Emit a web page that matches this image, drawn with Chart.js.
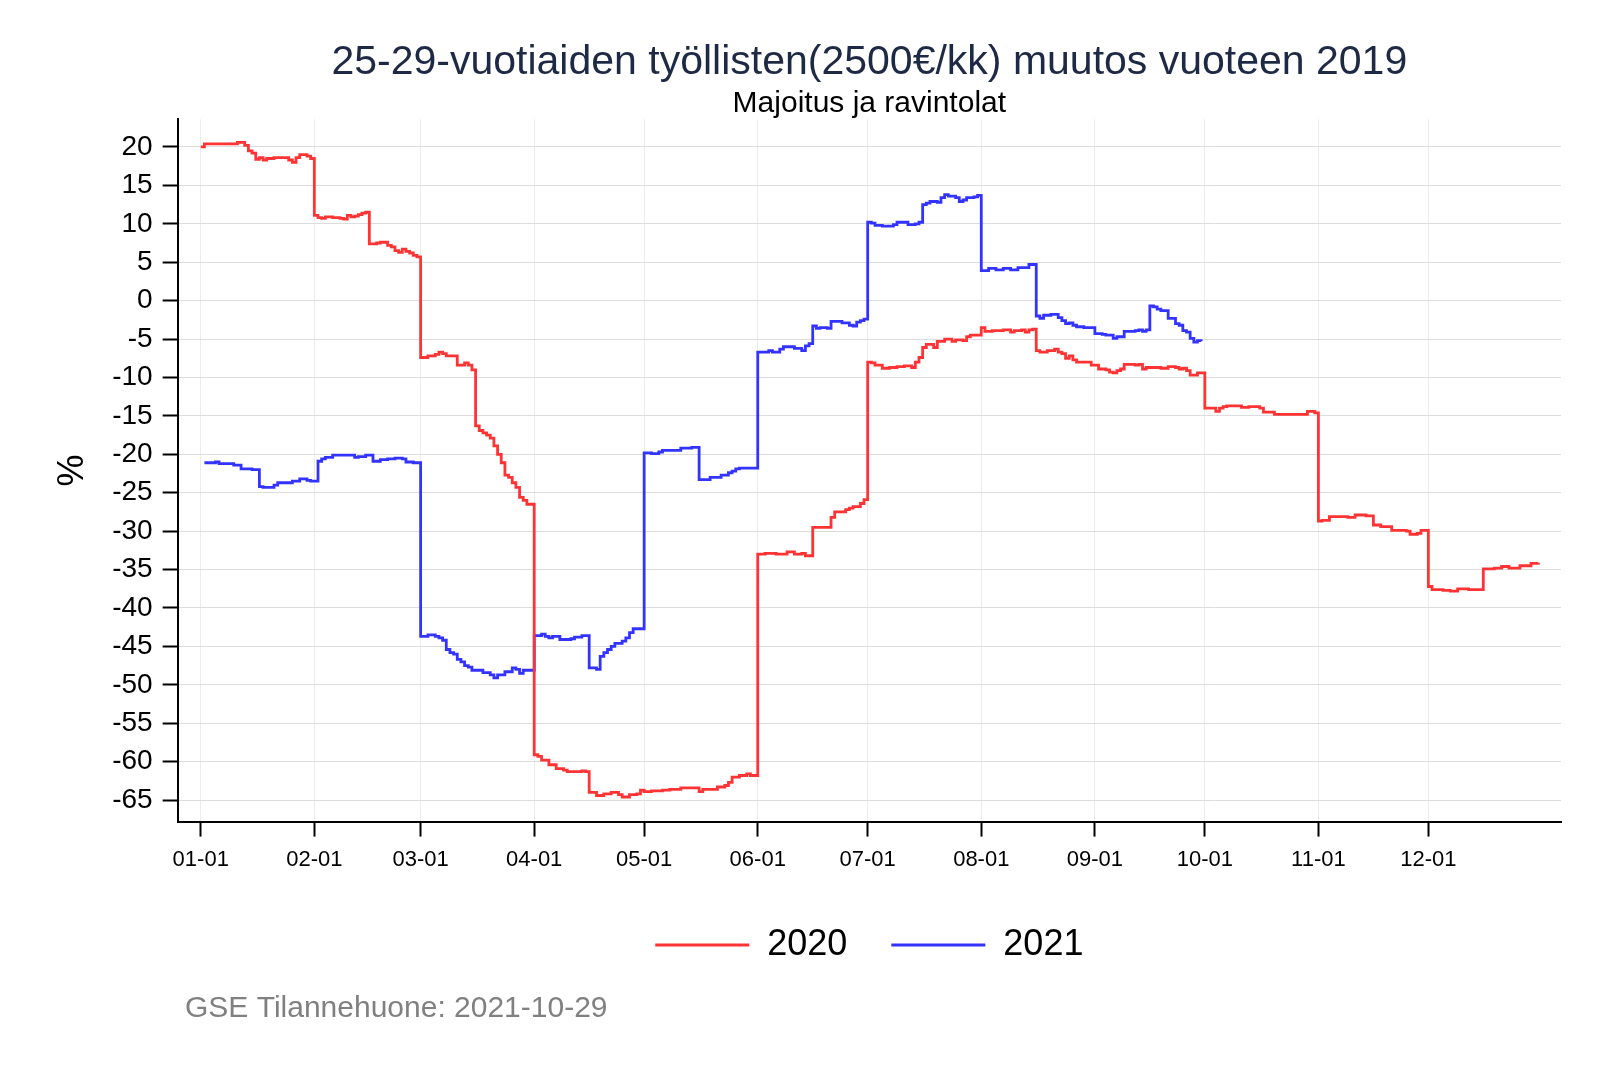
<!DOCTYPE html>
<html>
<head>
<meta charset="utf-8">
<script src="https://cdn.jsdelivr.net/npm/chart.js@4"></script>
<style>
  body { margin: 0; background: #fff; }
  #wrap { width: 1600px; height: 1067px; position: relative; }
</style>
</head>
<body>
<div id="wrap"><canvas id="jobs"></canvas></div>
<script>
// day of year (leap-year positions) where the value changes, and the value in %
const days2020 = [0, 1, 10, 12, 13, 14, 15, 16, 17, 18, 20, 24, 25, 26, 27, 29, 30,
  31, 32, 33, 34, 36, 38, 39, 40, 41, 42, 43, 44, 45,
  46, 48, 49, 51, 52, 53, 54, 55, 56, 57, 58, 59,
  60, 62, 64, 65, 66, 67, 70, 72, 73, 74,
  75, 76, 77, 78, 79, 80, 81, 82, 83, 84, 85, 86, 87, 88, 89,
  91, 92, 93, 95, 97, 99, 100, 104, 105,
  106, 108, 110, 112, 114, 115, 117, 119, 120, 121, 123, 126, 128, 131, 136, 137, 140, 141, 143, 144, 145, 147, 149, 150,
  152, 154, 157, 160, 162, 164, 165, 167, 172, 173, 176, 177, 178, 180, 181,
  182, 183, 184, 186, 188, 190, 192, 194, 195, 196, 197, 198, 200, 201, 203, 205, 206, 208, 209, 210,
  213, 214, 216, 219, 221, 222, 224, 225, 226, 227,
  228, 229, 231, 233, 234, 235, 236, 237, 238, 239, 243, 245, 247, 248, 249, 250, 251, 252, 255, 256, 257, 258, 262, 264, 266, 267, 268, 269, 270, 272,
  274, 277, 278, 279, 280, 284, 286, 289, 290, 293, 302, 304,
  305, 306, 308, 313, 315, 318, 320, 322, 325, 329, 330, 332, 333,
  335, 336, 339, 341, 343, 346, 350, 353, 355, 357, 360, 363, 365];
const pct2020 = [20.0, 20.4, 20.6, 20.2, 19.5, 19.2, 18.4, 18.6, 18.3, 18.5, 18.6, 18.3, 18.0, 18.6, 19.0, 18.8, 18.5,
  11.1, 10.8, 10.7, 10.9, 10.8, 10.7, 10.6, 11.1, 10.9, 11.0, 11.2, 11.4, 11.5,
  7.4, 7.5, 7.6, 7.2, 7.0, 6.5, 6.3, 6.7, 6.4, 6.2, 5.9, 5.7,
  -7.4, -7.2, -7.0, -6.7, -6.9, -7.2, -8.4, -8.1, -8.4, -9.0,
  -16.3, -16.9, -17.2, -17.5, -17.9, -18.9, -20.0, -21.1, -22.7, -23.0, -23.7, -24.3, -25.6, -26.0, -26.5,
  -59.1, -59.3, -59.8, -60.4, -60.9, -61.1, -61.3, -61.2, -61.3,
  -64.0, -64.4, -64.2, -64.0, -64.3, -64.6, -64.3, -64.2, -63.7, -63.9, -63.8, -63.7, -63.6, -63.4, -63.9, -63.6, -63.6, -63.3, -63.1, -62.7, -62.0, -61.8, -61.6, -61.8,
  -33.0, -32.9, -33.0, -32.7, -33.0, -32.9, -33.2, -29.5, -28.2, -27.5, -27.2, -27.0, -26.8, -26.4, -25.9,
  -8.0, -8.1, -8.4, -8.8, -8.7, -8.6, -8.5, -8.7, -8.0, -7.4, -6.1, -5.7, -6.1, -5.3, -5.0, -5.3, -5.1, -5.2, -4.7, -4.5,
  -3.5, -4.0, -3.9, -3.8, -4.1, -3.9, -3.8, -4.1, -3.8, -3.7,
  -6.5, -6.7, -6.5, -6.3, -6.7, -6.9, -7.5, -7.2, -7.7, -8.0, -8.4, -8.9, -9.0, -9.3, -9.4, -9.1, -8.9, -8.3, -8.4, -8.3, -8.9, -8.7, -8.8, -8.6, -8.7, -8.9, -8.8, -9.1, -9.7, -9.4,
  -14.0, -14.4, -14.0, -13.8, -13.7, -13.9, -13.8, -14.0, -14.5, -14.8, -14.4, -14.6,
  -28.7, -28.6, -28.1, -28.2, -27.9, -28.0, -29.2, -29.4, -29.9, -30.0, -30.4, -30.3, -29.9,
  -37.2, -37.6, -37.7, -37.8, -37.5, -37.6, -34.9, -34.8, -34.6, -34.8, -34.5, -34.2, -34.1];

const days2021 = [1, 4, 5, 9, 11, 14, 16, 17, 20, 21, 25, 27, 29, 30,
  32, 33, 34, 36, 42, 43, 45, 47, 49, 51, 53, 55, 56, 58,
  60, 62, 64, 65, 66, 67, 68, 69, 70, 71, 72, 73, 74, 77, 79, 80, 81, 83, 85, 86, 87, 88,
  91, 93, 94, 95, 96, 98, 101, 102, 104, 106, 108, 109, 110, 111, 112, 113, 115, 116, 117, 118,
  121, 123, 125, 126, 131, 134, 136, 139, 142, 144, 145, 146, 147,
  152, 155, 156, 158, 159, 162, 164, 165, 166, 167, 168, 169, 171, 172, 175, 177, 178, 179, 180, 181,
  182, 183, 184, 186, 189, 190, 193, 195, 196, 197, 198, 199, 201, 202, 203, 204, 206, 207, 208, 209, 211, 212,
  213, 215, 217, 219, 221, 223, 226,
  228, 229, 230, 232, 234, 235, 236, 237, 238, 239, 241, 244, 246, 247, 249, 250, 252, 255, 256, 257, 258,
  259, 260, 261, 262, 264, 266, 267, 268, 269, 270, 271, 272, 273];
const pct2021 = [-21.1, -21.0, -21.2, -21.4, -21.9, -22.0, -24.2, -24.3, -24.0, -23.7, -23.5, -23.2, -23.4, -23.5,
  -20.9, -20.6, -20.4, -20.1, -20.4, -20.3, -20.1, -20.9, -20.7, -20.6, -20.5, -20.6, -21.0, -21.1,
  -43.7, -43.5, -43.7, -43.9, -44.2, -45.4, -45.8, -46.0, -46.7, -47.0, -47.5, -47.7, -48.1, -48.4, -48.7, -49.1, -48.7, -48.3, -47.8, -48.0, -48.5, -48.1,
  -43.6, -43.4, -43.7, -43.9, -43.7, -44.1, -44.0, -43.8, -43.6, -47.8, -48.0, -46.3, -45.8, -45.4, -45.0, -44.6, -44.3, -43.9, -43.2, -42.7,
  -19.8, -19.9, -19.7, -19.5, -19.2, -19.1, -23.3, -23.0, -22.7, -22.4, -22.2, -21.9, -21.8,
  -6.7, -6.5, -6.7, -6.3, -6.0, -6.2, -6.5, -5.9, -5.6, -3.3, -3.6, -3.5, -3.6, -2.7, -2.9, -3.2, -3.3, -2.8, -2.6, -2.4,
  10.2, 10.1, 9.8, 9.7, 9.9, 10.2, 9.9, 10.0, 10.2, 12.5, 12.7, 12.9, 12.8, 13.4, 13.8, 13.6, 13.4, 12.9, 13.1, 13.4, 13.5, 13.7,
  3.9, 4.2, 4.0, 4.2, 4.0, 4.3, 4.7,
  -2.0, -2.3, -1.9, -1.8, -2.2, -2.6, -3.0, -2.9, -3.2, -3.4, -3.5, -4.3, -4.4, -4.5, -4.9, -4.7, -4.0, -3.9, -3.8, -4.0, -3.8,
  -0.7, -0.8, -1.1, -1.3, -2.3, -3.0, -3.2, -3.9, -4.1, -4.9, -5.4, -5.2, -5.3];

const monthDays = [0, 31, 60, 91, 121, 152, 182, 213, 244, 274, 305, 335];
const monthLabels = ['01-01', '02-01', '03-01', '04-01', '05-01', '06-01',
  '07-01', '08-01', '09-01', '10-01', '11-01', '12-01'];
const yTicks = [-65, -60, -55, -50, -45, -40, -35, -30, -25, -20, -15, -10, -5, 0, 5, 10, 15, 20];

const FONT = '"Liberation Sans", Arial, sans-serif';
Chart.defaults.font.family = FONT;
Chart.defaults.color = '#000';

function toPoints(days, vals) {
  return days.map((d, i) => ({x: d, y: vals[i]}));
}

const footer = {
  id: 'footer',
  afterDraw(chart) {
    const ctx = chart.ctx;
    ctx.save();
    ctx.font = '30px ' + FONT;
    ctx.fillStyle = '#808080';
    ctx.textBaseline = 'middle';
    ctx.textAlign = 'left';
    ctx.fillText('GSE Tilannehuone: 2021-10-29', 185, 1009);
    ctx.restore();
  }
};

let ctx = document.getElementById('jobs').getContext('2d');
let jobsChart = new Chart(ctx, {
  type: 'line',
  data: {
    datasets: [{
      label: '2020',
      data: toPoints(days2020, pct2020),
      borderColor: '#ff3333',
      backgroundColor: '#ff3333',
      borderWidth: 2.8,
      pointRadius: 0,
      stepped: true
    }, {
      label: '2021',
      data: toPoints(days2021, pct2021),
      borderColor: '#3333ff',
      backgroundColor: '#3333ff',
      borderWidth: 2.8,
      pointRadius: 0,
      stepped: true
    }]
  },
  options: {
    responsive: true,
    maintainAspectRatio: false,
    animation: false,
    layout: { padding: { left: 47, right: 39, top: 0, bottom: 94 } },
    scales: {
      x: {
        type: 'linear',
        min: -6.3,
        max: 371.2,
        afterBuildTicks: (axis) => { axis.ticks = monthDays.map(v => ({value: v})); },
        grid: { color: '#ececec', tickColor: '#000', tickLength: 15, tickWidth: 2 },
        border: { color: '#000', width: 2 },
        ticks: {
          autoSkip: false,
          maxRotation: 0,
          padding: 10,
          font: { size: 22 },
          callback: (v) => monthLabels[monthDays.indexOf(v)]
        }
      },
      y: {
        min: -67.8,
        max: 23.6,
        afterBuildTicks: (axis) => { axis.ticks = yTicks.map(v => ({value: v})); },
        grid: { color: '#dddddd', tickColor: '#000', tickLength: 15, tickWidth: 2 },
        border: { color: '#000', width: 2 },
        ticks: { padding: 10, font: { size: 28 } },
        title: { display: true, text: '%', font: { size: 36 }, padding: { top: 4, bottom: 8 } }
      }
    },
    plugins: {
      title: {
        display: true,
        fullSize: false,
        text: '25-29-vuotiaiden työllisten(2500€/kk) muutos vuoteen 2019',
        color: '#1e2a45',
        font: { size: 41, weight: 'normal', lineHeight: 1.2 },
        padding: { top: 38, bottom: 0 }
      },
      subtitle: {
        display: true,
        fullSize: false,
        text: 'Majoitus ja ravintolat',
        color: '#000',
        font: { size: 30, lineHeight: 1.07 },
        padding: { top: 0, bottom: 0 }
      },
      legend: {
        position: 'bottom',
        fullSize: false,
        labels: {
          usePointStyle: true,
          pointStyle: 'line',
          pointStyleWidth: 94,
          padding: 44,
          font: { size: 36 },
          color: '#000'
        }
      },
      tooltip: { enabled: false }
    }
  },
  plugins: [footer]
});
</script>
</body>
</html>
